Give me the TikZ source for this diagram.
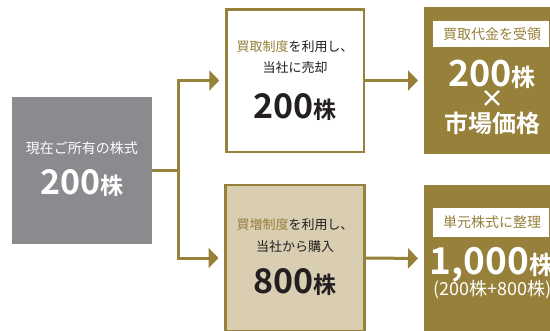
\documentclass[tikz,border=0pt]{standalone}
\usepackage{fontspec}
\setmainfont{Noto Sans CJK JP}[BoldFont={Noto Sans CJK JP Bold}]
\usetikzlibrary{arrows.meta}
\definecolor{gold}{HTML}{96803A}
\definecolor{beige}{HTML}{D9CDB2}
\definecolor{slate}{HTML}{898B8E}
\definecolor{ink}{HTML}{231F20}
\newcommand{\fsz}[1]{\fontsize{#1}{#1}\selectfont}
\begin{document}
\begin{tikzpicture}[x=1pt,y=-1pt,
  panel/.style={inner sep=0pt, outer sep=0pt},
  txt/.style={inner sep=0pt, outer sep=0pt, align=center},
  conn/.style={draw=gold, line width=3pt},
  arrowline/.style={draw=gold, line width=3pt, -{Triangle[length=10pt,width=20pt]}}]
\useasboundingbox (0,0) rectangle (550,330);
\clip (0,0) rectangle (550,330);
% panels
\node[panel, fill=slate, minimum width=140pt, minimum height=147pt] (gray) at (82,170.5) {};
\node[panel, fill=white, draw=gold, line width=2.5pt, minimum width=137.5pt, minimum height=142.5pt] (buy) at (295,80.5) {};
\node[panel, fill=beige, draw=gold, line width=2.5pt, minimum width=139pt, minimum height=146pt] (add) at (295,258) {};
\node[panel, fill=gold, minimum width=136pt, minimum height=147pt] (recv) at (492,80.5) {};
\node[panel, fill=gold, minimum width=136pt, minimum height=147pt] (unit) at (492,258.5) {};
% gray texts
\node[txt, text=white] (g1) at (82,148) {\fsz{14}現在ご所有の株式};
\node[txt, text=white] (g2) at (82,183) {\bfseries\fsz{34}200\fsz{23}株};
% buy texts
\node[txt, text=ink] (b1) at (295,47) {\fsz{13}\textcolor{gold}{買取制度}を利用し、};
\node[txt, text=ink] (b2) at (295,68) {\fsz{13}当社に売却};
\node[txt, text=ink] (b3) at (295,107) {\bfseries\fsz{34}200\fsz{23}株};
% add texts
\node[txt, text=ink] (a1) at (295,225) {\fsz{13}\textcolor{gold}{買増制度}を利用し、};
\node[txt, text=ink] (a2) at (295,247) {\fsz{13}当社から購入};
\node[txt, text=ink] (a3) at (295,282) {\bfseries\fsz{34}800\fsz{23}株};
% receive texts
\node[panel, fill=white, minimum width=116pt, minimum height=26pt] (rlab) at (491,34) {};
\node[txt, text=gold] (r1) at (492,34) {\fsz{14}買取代金を受領};
\node[txt, text=white] (r2) at (492,74.5) {\bfseries\fsz{36}200\fsz{24}株};
\node[txt, text=white] (r3) at (492,99) {\bfseries\fsz{24}×};
\node[txt, text=white] (r4) at (492,123.5) {\bfseries\fsz{24}市場価格};
% unit texts
\node[panel, fill=white, minimum width=116pt, minimum height=29pt] (ulab) at (491,222.5) {};
\node[txt, text=gold] (u1) at (492,222.5) {\fsz{14}単元株式に整理};
\node[txt, text=white] (u2) at (492,265) {\bfseries\fsz{37}1,000\fsz{25}株};
\node[txt, text=white, anchor=west] (u3) at (433,290) {\fsz{18}(200株+800株)};
% connectors
\draw[conn] (gray.east) -- ++(26,0) coordinate (j);
\draw[arrowline, shorten >=7pt] (j) |- (buy.west);
\draw[arrowline, shorten >=7pt] (j) |- (add.west);
\draw[arrowline, shorten >=6pt] (buy.east) -- (recv.west);
\draw[arrowline, shorten >=6pt] (add.east) -- (unit.west);
\end{tikzpicture}
\end{document}
